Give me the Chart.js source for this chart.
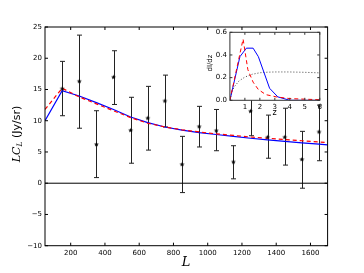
<!DOCTYPE html>
<html><head><meta charset="utf-8">
<script src="https://cdn.jsdelivr.net/npm/chart.js@4"></script>
<style>
html,body{margin:0;padding:0;background:#fff;}
#wrap{position:relative;width:364px;height:273px;}
#main{position:absolute;left:0;top:0;}
#inset{position:absolute;left:190px;top:22px;}
</style></head><body>
<div id="wrap"><canvas id="main" width="364" height="273"></canvas><canvas id="inset" width="135" height="100"></canvas></div>
<script>
// measured bins
const binL = [150, 250, 350, 450, 550, 650, 750, 850, 950, 1050, 1150, 1250, 1350, 1450, 1550, 1650];
const lcMeasured = [15.1, 16.3, 6.2, 16.95, 8.45, 10.4, 13.15, 3.0, 9.05, 8.4, 3.4, 11.5, 7.35, 7.35, 3.8, 8.2];
const lcLow = [10.8, 8.8, 0.9, 12.6, 3.2, 5.3, 9.0, -1.5, 5.8, 5.2, 0.7, 7.6, 4.0, 2.9, -0.8, 3.6];
const lcHigh = [19.5, 23.7, 11.6, 21.2, 13.75, 15.5, 17.3, 7.5, 12.3, 11.8, 6.0, 15.4, 10.9, 12.0, 8.3, 12.5];

// model curves
const modelL = [50, 150, 250, 350, 450, 550, 650, 750, 850, 950, 1050, 1150, 1250, 1350, 1450, 1550, 1650, 1700];
const modelBlue = [10.0, 14.8, 13.95, 12.9, 11.8, 10.6, 9.7, 9.0, 8.5, 8.1, 7.8, 7.5, 7.2, 6.95, 6.7, 6.45, 6.25, 6.15];
const modelRed = [11.8, 15.2, 13.8, 12.7, 11.6, 10.5, 9.6, 9.0, 8.55, 8.2, 7.9, 7.65, 7.4, 7.2, 7.0, 6.8, 6.6, 6.5];

const xTicks = [200, 400, 600, 800, 1000, 1200, 1400, 1600];

// inset: dI/dz
const zBlue = [0, 0.67, 1.1, 1.55, 1.9, 2.65, 3.2, 4.0, 6.0];
const dBlue = [0, 0.385, 0.46, 0.46, 0.385, 0.106, 0.03, 0.0, 0.0];
const zRed = [0, 0.88, 1.2, 1.55, 1.9, 2.4, 3.1, 4.0, 5.0, 6.0];
const dRed = [0, 0.54, 0.27, 0.16, 0.095, 0.05, 0.03, 0.015, 0.01, 0.005];
const zGray = [0, 0.15, 0.3, 0.6, 1.0, 1.5, 2.0, 2.5, 3.0, 3.5, 4.0, 5.0, 6.0];
const dGray = [0, 0.08, 0.12, 0.17, 0.205, 0.23, 0.243, 0.248, 0.25, 0.25, 0.25, 0.247, 0.242];
const zTicks = [1, 2, 3, 4, 5, 6];

const pts = (xs, ys) => xs.map((v, i) => ({ x: v, y: ys[i] }));
const minus = (v) => String(v).replace("-", "\u2212");

function starImage(r) {
  const c = document.createElement("canvas");
  const s = Math.ceil(r * 2) + 1;
  c.width = s; c.height = s;
  const g = c.getContext("2d");
  g.fillStyle = "#000";
  g.beginPath();
  for (let i = 0; i < 10; i++) {
    const rad = i % 2 ? r * 0.42 : r;
    const a = -Math.PI / 2 + i * Math.PI / 5;
    const px = s / 2 + rad * Math.cos(a), py = s / 2 + rad * Math.sin(a);
    if (i) g.lineTo(px, py); else g.moveTo(px, py);
  }
  g.closePath();
  g.fill();
  return c;
}

const frameTicks = {
  id: "frameTicks",
  beforeDraw(chart, args, opts) {
    if (!opts.fill) return;
    const { ctx, chartArea: a } = chart;
    ctx.save();
    ctx.fillStyle = opts.fill;
    ctx.fillRect(a.left, a.top, a.right - a.left, a.bottom - a.top);
    ctx.restore();
  },
  afterDraw(chart, args, opts) {
    const { ctx, chartArea: a, scales: { x, y } } = chart;
    const len = opts.len || 3;
    ctx.save();
    ctx.strokeStyle = opts.color || "#000";
    ctx.lineWidth = 1;
    ctx.strokeRect(a.left, a.top, a.right - a.left, a.bottom - a.top);
    ctx.beginPath();
    x.ticks.forEach(t => {
      const px = x.getPixelForValue(t.value);
      ctx.moveTo(px, a.bottom); ctx.lineTo(px, a.bottom - len);
      ctx.moveTo(px, a.top); ctx.lineTo(px, a.top + len);
    });
    y.ticks.forEach(t => {
      const py = y.getPixelForValue(t.value);
      ctx.moveTo(a.left, py); ctx.lineTo(a.left + len, py);
      ctx.moveTo(a.right, py); ctx.lineTo(a.right - len, py);
    });
    ctx.stroke();
    ctx.restore();
  }
};

const errorBars = {
  id: "errorBars",
  beforeDatasetsDraw(chart) {
    const { ctx, scales: { x, y } } = chart;
    ctx.save();
    ctx.strokeStyle = "#222";
    ctx.lineWidth = 1;
    ctx.beginPath();
    binL.forEach((l, i) => {
      const px = Math.round(x.getPixelForValue(l)) + 0.5;
      const lo = y.getPixelForValue(lcLow[i]);
      const hi = y.getPixelForValue(lcHigh[i]);
      ctx.moveTo(px, lo); ctx.lineTo(px, hi);
      ctx.moveTo(px - 2.5, lo); ctx.lineTo(px + 2.5, lo);
      ctx.moveTo(px - 2.5, hi); ctx.lineTo(px + 2.5, hi);
    });
    ctx.stroke();
    ctx.restore();
  }
};

const mainLabels = {
  id: "mainLabels",
  afterDraw(chart) {
    const ctx = chart.ctx;
    ctx.save();
    ctx.fillStyle = "#000";
    ctx.textBaseline = "middle";
    // x label
    ctx.font = "italic 13px 'DejaVu Serif'";
    ctx.textAlign = "center";
    ctx.fillText("L", 186, 263);
    // y label
    ctx.translate(17, 134);
    ctx.rotate(-Math.PI / 2);
    ctx.textAlign = "left";
    const f1 = "italic 11px 'DejaVu Serif'", f2 = "italic 7.5px 'DejaVu Serif'", f3 = "11px 'DejaVu Sans'";
    ctx.font = f1; const w1 = ctx.measureText("LC").width;
    ctx.font = f2; const w2 = ctx.measureText("L").width;
    ctx.font = f3; const w3 = ctx.measureText(" (Jy/sr)").width;
    let x0 = -(w1 + w2 + w3) / 2;
    ctx.font = f1; ctx.fillText("LC", x0, 0); x0 += w1;
    ctx.font = f2; ctx.fillText("L", x0, 3); x0 += w2;
    ctx.font = f3; ctx.fillText(" (Jy/sr)", x0, 0);
    ctx.restore();
  }
};

const insetLabels = {
  id: "insetLabels",
  afterDraw(chart) {
    const ctx = chart.ctx;
    ctx.save();
    ctx.fillStyle = "#000";
    ctx.textBaseline = "middle";
    ctx.textAlign = "center";
    ctx.font = "8px 'DejaVu Sans'";
    ctx.fillText("z", 84.5, 90.5);
    ctx.translate(20, 41);
    ctx.rotate(-Math.PI / 2);
    ctx.font = "7px 'DejaVu Sans'";
    ctx.fillText("dI/dz", 0, 0);
    ctx.restore();
  }
};

const tickFont = { family: "'DejaVu Sans'", size: 7 };

new Chart(document.getElementById("main").getContext("2d"), {
  type: "line",
  data: {
    datasets: [
      {
        data: pts(binL, lcMeasured),
        showLine: false,
        pointStyle: starImage(2.6),
        pointRadius: 3
      },
      {
        data: pts(modelL, modelRed),
        borderColor: "#ff0000",
        borderWidth: 1.2,
        borderDash: [4, 3],
        pointRadius: 0
      },
      {
        data: pts(modelL, modelBlue),
        borderColor: "#0000ff",
        borderWidth: 1.2,
        pointRadius: 0
      },
      {
        data: [{ x: 50, y: 0 }, { x: 1700, y: 0 }],
        borderColor: "#000",
        borderWidth: 1,
        pointRadius: 0
      }
    ]
  },
  options: {
    responsive: false,
    animation: false,
    devicePixelRatio: 1,
    layout: { padding: { left: 0, top: 27, right: 36.4, bottom: 0 } },
    plugins: { legend: { display: false }, tooltip: { enabled: false }, frameTicks: { len: 3 } },
    scales: {
      x: {
        type: "linear", min: 50, max: 1700,
        afterBuildTicks: (s) => { s.ticks = xTicks.map(v => ({ value: v })); },
        afterFit: (s) => { s.height = 27.3; },
        grid: { display: false, drawTicks: false },
        border: { display: false },
        ticks: { font: tickFont, color: "#000", padding: 3, maxRotation: 0, callback: (v) => String(v) }
      },
      y: {
        type: "linear", min: -10, max: 25,
        afterFit: (s) => { s.width = 45; },
        grid: { display: false, drawTicks: false },
        border: { display: false },
        ticks: { stepSize: 5, font: tickFont, color: "#000", padding: 3, callback: (v) => minus(v) }
      }
    }
  },
  plugins: [errorBars, frameTicks, mainLabels]
});

new Chart(document.getElementById("inset").getContext("2d"), {
  type: "line",
  data: {
    datasets: [
      { data: pts(zRed, dRed), borderColor: "#ff0000", borderWidth: 1, borderDash: [4, 3], pointRadius: 0 },
      { data: pts(zBlue, dBlue), borderColor: "#0000ff", borderWidth: 1, pointRadius: 0 },
      { data: pts(zGray, dGray), borderColor: "#444", borderWidth: 1, borderDash: [1, 2], pointRadius: 0 }
    ]
  },
  options: {
    responsive: false,
    animation: false,
    devicePixelRatio: 1,
    layout: { padding: { left: 0, top: 10.3, right: 4.5, bottom: 0 } },
    plugins: { legend: { display: false }, tooltip: { enabled: false }, frameTicks: { len: 2.5, fill: "#fff", color: "#333" } },
    scales: {
      x: {
        type: "linear", min: 0, max: 6,
        afterBuildTicks: (s) => { s.ticks = zTicks.map(v => ({ value: v })); },
        afterFit: (s) => { s.height = 21.7; },
        grid: { display: false, drawTicks: false },
        border: { display: false },
        ticks: { font: tickFont, color: "#000", padding: 3, maxRotation: 0 }
      },
      y: {
        type: "linear", min: 0, max: 0.6,
        afterFit: (s) => { s.width = 39.9; },
        grid: { display: false, drawTicks: false },
        border: { display: false },
        ticks: { stepSize: 0.1, font: tickFont, color: "#000", padding: 3, callback: (v) => v.toFixed(1) }
      }
    }
  },
  plugins: [frameTicks, insetLabels]
});
</script>
</body></html>
